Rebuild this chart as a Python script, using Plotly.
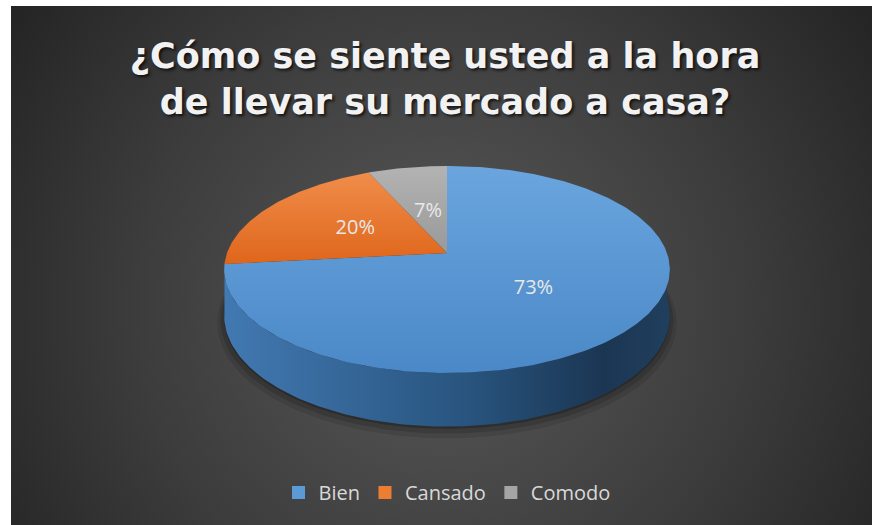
import math
import base64
import plotly.graph_objects as go

# ---- data ----
categories = ["Bien", "Cansado", "Comodo"]
values = [73.3, 20.0, 6.7]
title_lines = ["¿Cómo se siente usted a la hora", "de llevar su mercado a casa?"]

# ---- styles ----
top_colors = [("#4a88c7", "#6aa5de"), ("#df661b", "#f08d4a"), ("#999999", "#b3b3b3")]
side_colors = [[[0, "#4279b2"], [0.55, "#28547e"], [0.85, "#1b3653"], [1, "#203f5e"]],
               [[0, "#b5581a"], [1, "#b5581a"]],
               [[0, "#808080"], [1, "#808080"]]]
legend_colors = ["#5b9bd5", "#ed7d31", "#a5a5a5"]

W, H = 872, 525
# projection of the tilted disc (pixel space)
CX, CY, RK = 447.0, 253.0, 220.0
SIN_A, COS_A, DIST = 0.4586, 0.8886, 5.58
THICK = 45.0


def proj(phi_deg, r=1.0, drop=0.0):
    p = math.radians(phi_deg)
    z = r * math.cos(p)
    x = r * math.sin(p)
    s = DIST / (DIST + z * COS_A)
    return CX + RK * x * s, CY - RK * SIN_A * z * s + drop * s


def arc(a0, a1, r=1.0, drop=0.0, n=None):
    n = n or max(4, int(abs(a1 - a0)))
    pts = [proj(a0 + (a1 - a0) * i / n, r, drop) for i in range(n + 1)]
    return [p[0] for p in pts], [p[1] for p in pts]


total = sum(values)
bounds = [0.0]
for v in values:
    bounds.append(bounds[-1] + v / total * 360.0)

fig = go.Figure()

# shadow under the disc
for k, (sc, op) in enumerate([(1.03, 0.10), (1.015, 0.14), (1.0, 0.22)]):
    xs, ys = arc(0, 360, sc, THICK + 6 - 2 * k, 180)
    fig.add_trace(go.Scatter(x=xs, y=ys, mode="lines", fill="toself", line=dict(width=0),
                             fillcolor=f"rgba(0,0,0,{op})", hoverinfo="skip", showlegend=False))

# visible side walls (front half of the disc)
for i in range(len(values)):
    a0, a1 = max(bounds[i], 90.0), min(bounds[i + 1], 265.0)
    if a1 - a0 < 2:
        continue
    tx, ty = arc(a0, a1)
    bx, by = arc(a1, a0, 1.0, THICK)
    fig.add_trace(go.Scatter(x=tx + bx, y=ty + by, mode="lines", fill="toself", line=dict(width=0),
                             fillgradient=dict(type="horizontal", colorscale=side_colors[i]),
                             hoverinfo="skip", showlegend=False))

# top faces
for i in range(len(values)):
    ax, ay = arc(bounds[i], bounds[i + 1])
    c0, c1 = proj(0, 0.0)
    fig.add_trace(go.Scatter(x=[c0] + ax + [c0], y=[c1] + ay + [c1], mode="lines", fill="toself",
                             line=dict(width=0),
                             fillgradient=dict(type="vertical",
                                               colorscale=[[0, top_colors[i][0]], [1, top_colors[i][1]]]),
                             hoverinfo="skip", showlegend=False))

# data labels
label_r = [0.5, 0.5, 0.44]
lx, ly, lt = [], [], []
for i, v in enumerate(values):
    mid = (bounds[i] + bounds[i + 1]) / 2
    px, py = proj(mid, label_r[i])
    lx.append(px)
    ly.append(py)
    lt.append(f"{round(v / total * 100)}%")
fig.add_trace(go.Scatter(x=lx, y=ly, mode="text", text=lt,
                         textfont=dict(family="Open Sans", size=20, color="#e8e8e8"),
                         hoverinfo="skip", showlegend=False))

# legend entries
for name, col in zip(categories, legend_colors):
    fig.add_trace(go.Scatter(x=[None], y=[None], mode="markers", name=name,
                             marker=dict(symbol="square", size=13, color=col)))

# radial gradient background
svg = ('<svg xmlns="http://www.w3.org/2000/svg" width="861" height="519" viewBox="0 0 861 519">'
       '<defs><radialGradient id="g" cx="430" cy="300" r="560" gradientUnits="userSpaceOnUse">'
       '<stop offset="0" stop-color="#595959"/><stop offset="0.55" stop-color="#3c3c3c"/>'
       '<stop offset="1" stop-color="#202020"/></radialGradient></defs>'
       '<rect width="861" height="519" fill="url(#g)"/></svg>')
src = "data:image/svg+xml;base64," + base64.b64encode(svg.encode()).decode()

fig.update_layout(
    width=W, height=H,
    margin=dict(l=0, r=0, t=0, b=0),
    paper_bgcolor="white",
    plot_bgcolor="rgba(0,0,0,0)",
    images=[dict(source=src, xref="paper", yref="paper", x=11 / W, y=1 - 6 / H,
                 sizex=(W - 11) / W, sizey=(H - 6) / H, xanchor="left", yanchor="top",
                 sizing="stretch", layer="below")],
    xaxis=dict(range=[0, W], visible=False, fixedrange=True),
    yaxis=dict(range=[H, 0], visible=False, fixedrange=True),
    title=dict(text="<br>".join(title_lines), x=445 / W, xanchor="center",
               y=1 - 68 / H, yanchor="top", yref="container",
               font=dict(family="DejaVu Sans", size=35, color="#f2f2f2", weight="bold",
                         shadow="2px 2px 3px rgba(0,0,0,0.7)")),
    legend=dict(orientation="h", x=447 / W, xanchor="center", y=1 - 473 / H, yanchor="top",
                font=dict(family="Open Sans", size=20, color="#d9d9d9"),
                bgcolor="rgba(0,0,0,0)", itemwidth=30),
    showlegend=True,
)

fig.write_html("out.html", config={"displayModeBar": False},
               post_script="document.body.style.margin='0';")
